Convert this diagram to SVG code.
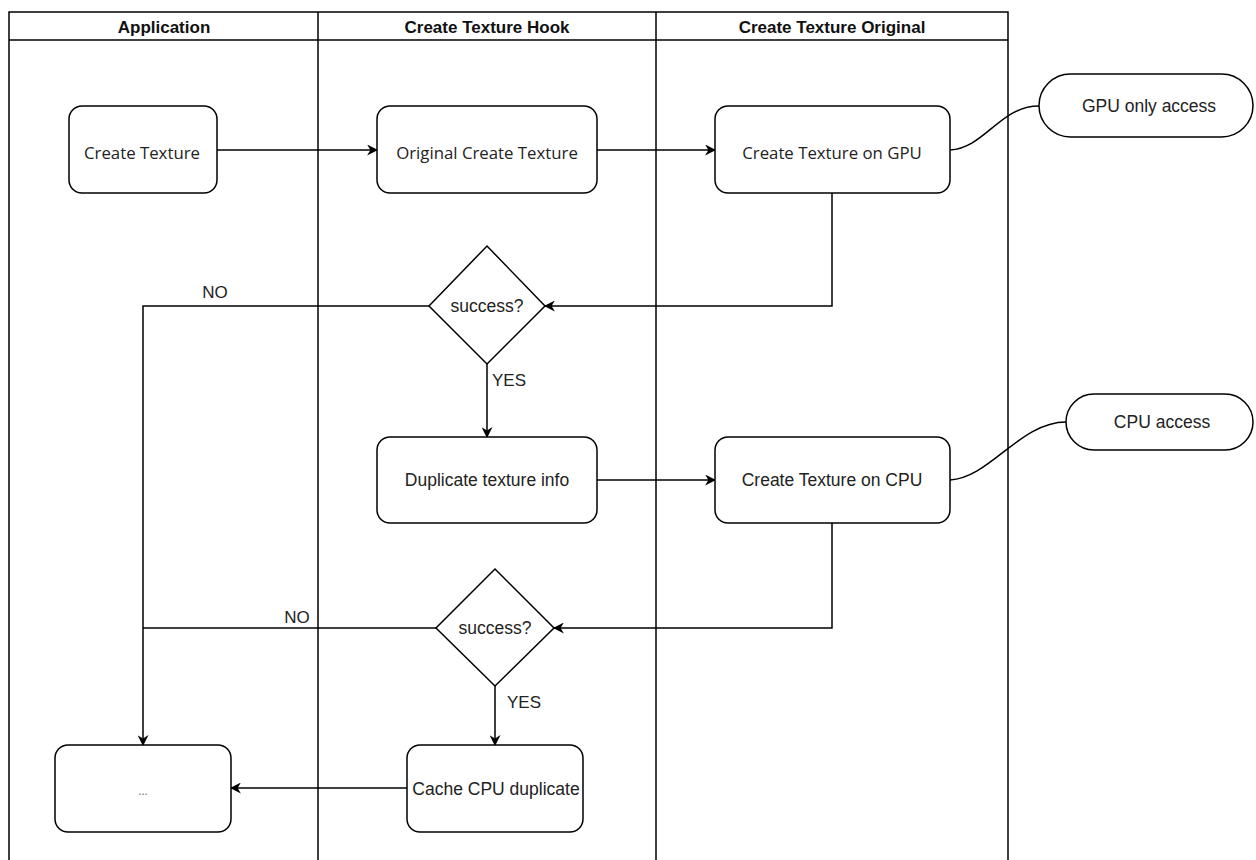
<svg xmlns="http://www.w3.org/2000/svg" width="1256" height="860" viewBox="0 0 1256 860">
<style>
.lane{fill:none;stroke:#000;stroke-width:1.5}
.hdr{font-family:"Liberation Sans",Arial,sans-serif;font-weight:bold;font-size:17px;fill:#111;text-anchor:middle}
.box{fill:#fff;stroke:#000;stroke-width:1.5}
.t{font-family:"Liberation Sans",Arial,sans-serif;font-size:17.5px;fill:#222;text-anchor:middle;dominant-baseline:central}
.ts{font-family:"Open Sans","DejaVu Sans",sans-serif;font-size:16.8px;fill:#222;text-anchor:middle;dominant-baseline:central}
.lbl{font-family:"Liberation Sans",Arial,sans-serif;font-size:17px;fill:#222;text-anchor:middle;dominant-baseline:central}
.edge{fill:none;stroke:#000;stroke-width:1.5}
</style>
<defs>
<marker id="arr" viewBox="0 0 10 10" refX="9" refY="5" markerWidth="11" markerHeight="11" markerUnits="userSpaceOnUse" orient="auto">
<path d="M0,0 L10,5 L0,10 L3,5 Z" fill="#000"/>
</marker>
</defs>
<rect width="1256" height="860" fill="#fff"/>
<g id="lanes">
<path class="lane" d="M9,870 V12 H1008 V870"/>
<path class="lane" d="M9,40 H1008"/>
<path class="lane" d="M318,12 V870 M656,12 V870"/>
<text class="hdr" x="164" y="33">Application</text>
<text class="hdr" x="487" y="33">Create Texture Hook</text>
<text class="hdr" x="832" y="33">Create Texture Original</text>
</g>
<g id="connectors">
<path class="edge" d="M217,150 H377" marker-end="url(#arr)"/>
<path class="edge" d="M597,150 H715" marker-end="url(#arr)"/>
<path class="edge" d="M832,193 V306 H545" marker-end="url(#arr)"/>
<path class="edge" d="M429,306 H143 V745" marker-end="url(#arr)"/>
<path class="edge" d="M487,364 V437" marker-end="url(#arr)"/>
<path class="edge" d="M597,480 H715" marker-end="url(#arr)"/>
<path class="edge" d="M832,523 V628 H554" marker-end="url(#arr)"/>
<path class="edge" d="M436,628 H143"/>
<path class="edge" d="M495,686 V745" marker-end="url(#arr)"/>
<path class="edge" d="M407,788 H231" marker-end="url(#arr)"/>
<path class="edge" d="M950,150 C985,148 1000,106 1039,106"/>
<path class="edge" d="M950,480 C990,478 1020,422 1066,422"/>
<text class="lbl" x="215" y="292">NO</text>
<text class="lbl" x="509" y="380">YES</text>
<text class="lbl" x="297" y="617">NO</text>
<text class="lbl" x="524" y="702">YES</text>
</g>
<g id="n-create-texture">
<rect class="box" x="69" y="106" width="148" height="87" rx="13"/>
<text class="ts" x="142" y="152">Create Texture</text>
</g>
<g id="n-original-create">
<rect class="box" x="377" y="106" width="220" height="87" rx="13"/>
<text class="ts" x="487" y="152">Original Create Texture</text>
</g>
<g id="n-gpu">
<rect class="box" x="715" y="106" width="235" height="87" rx="13"/>
<text class="ts" x="832" y="152">Create Texture on GPU</text>
</g>
<g id="n-gpu-access">
<rect class="box" x="1039" y="74" width="214" height="63" rx="31.5"/>
<text class="t" x="1149" y="106">GPU only access</text>
</g>
<g id="n-success1">
<path class="box" d="M487,246 L545,306 L487,364 L429,306 Z"/>
<text class="t" x="487" y="306">success?</text>
</g>
<g id="n-duplicate">
<rect class="box" x="377" y="437" width="220" height="86" rx="13"/>
<text class="t" x="487" y="480">Duplicate texture info</text>
</g>
<g id="n-cpu">
<rect class="box" x="715" y="437" width="235" height="86" rx="13"/>
<text class="t" x="832" y="480">Create Texture on CPU</text>
</g>
<g id="n-cpu-access">
<rect class="box" x="1066" y="394" width="187" height="56" rx="28"/>
<text class="t" x="1162" y="422">CPU access</text>
</g>
<g id="n-success2">
<path class="box" d="M495,569 L554,628 L495,686 L436,628 Z"/>
<text class="t" x="495" y="628">success?</text>
</g>
<g id="n-cache">
<rect class="box" x="407" y="745" width="176" height="87" rx="13"/>
<text class="t" x="496" y="789">Cache CPU duplicate</text>
</g>
<g id="n-dots">
<rect class="box" x="55" y="745" width="176" height="87" rx="13"/>
<text class="ts" x="143" y="790" style="font-size:12px;fill:#777">...</text>
</g>
</svg>
